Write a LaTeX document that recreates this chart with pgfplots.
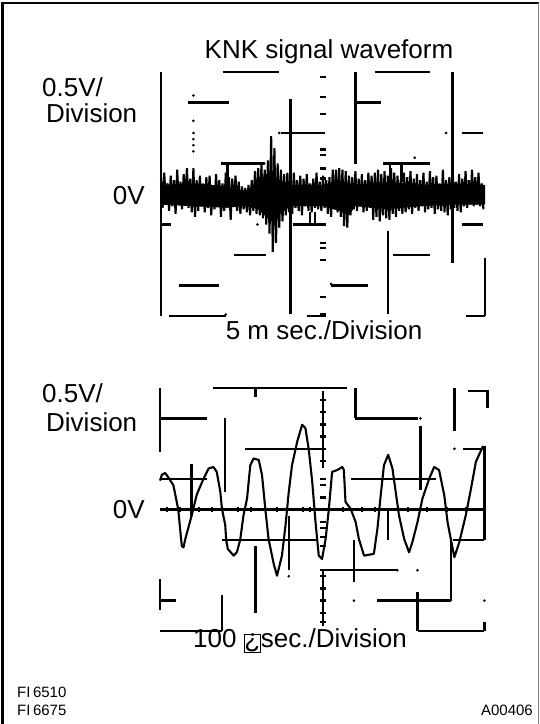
\documentclass[border=0pt]{standalone}
\usepackage{pgfplots}
\pgfplotsset{compat=1.18}
\usepackage{fontspec}
\setmainfont{Liberation Sans}

\pgfplotsset{
  scope/.style={scale only axis, hide axis, clip=false,
    xmin=0, xmax=10, ymin=-4, ymax=4, unbounded coords=jump},
  grid seg/.style={black, line width=2.3pt, line cap=butt},
}
\newcommand\bigtxt{\fontsize{26}{30}\selectfont}
\newcommand\smalltxt{\fontsize{15}{17}\selectfont}

\begin{document}
\begin{tikzpicture}
\useasboundingbox (0pt,0pt) rectangle (539pt,724pt);
% frame
\draw[line width=2.2pt] (2.5pt,0pt) -- (2.5pt,721pt) -- (539pt,721pt);
\draw[gray, line width=0.8pt] (538.4pt,0pt) -- (538.4pt,721pt);

% ---- upper trace: 5 ms/div
\begin{axis}[scope, at={(161pt,408pt)}, anchor=south west, width=324pt, height=244pt]
\addplot[grid seg] coordinates {
 (0,-4)(0,4)(0,nan)
 (1.9,4)(3.65,4)(0,nan) (6.6,4)(8.3,4)(0,nan)
 (0.82,3)(2.1,3)(0,nan) (6.03,3)(6.8,3)(0,nan)
 (3.7,2)(5.05,2)(0,nan) (9.3,2)(9.95,2)(0,nan)
 (1.85,1)(3.19,1)(0,nan) (2.05,1)(2.05,0.3)(0,nan)
 (6.85,1)(8.3,1)(0,nan) (7.06,1)(7.06,0.4)(0,nan) (7.42,1)(7.42,0.4)(0,nan)
 (0,-1)(0.3,-1)(0,nan) (4.06,-1)(4.9,-1)(0,nan)
 (4.6,-1)(4.6,-0.6)(0,nan) (4.75,-1)(4.75,-0.6)(0,nan)
 (9.3,-1)(9.95,-1)(0,nan)
 (2.26,-2)(3.24,-2)(0,nan) (7.16,-2)(8.3,-2)(0,nan)
 (0.56,-3)(1.8,-3)(0,nan) (5.25,-3)(6.4,-3)(0,nan)
 (0.25,-4)(2.0,-4)(0,nan) (4.5,-4)(5.1,-4)(0,nan) (9.4,-4)(10,-4)(0,nan)
 (4,3.1)(4,-3.95)(0,nan)
 (6,4)(6,1.0)(0,nan)
 (9,4)(9,-2.25)(0,nan)
 (7,-1.2)(7,-3.93)(0,nan)
 (10,-2.1)(10,-4)
};
\addplot[only marks, mark=-, mark size=3, mark options={line width=2.3pt}] coordinates {
 (5,3.84)(5,3.18)(5,2.62)(5,1.46)(5,1.29)(5,0.84)(5,0.51)
 (5,-1.0)(5,-1.6)(5,-1.77)(5,-2.16)(5,-3.38)(5,-3.93)
};
\addplot[only marks, mark=*, mark size=1.1] coordinates {
 (1,3.23)(1,2.4)(1,2.0)(1,1.8)(1,1.6)(1,1.4)
 (2.98,-1.0)(3.19,1.0)(3.65,2)(8.8,2)(7.83,1.19)(5.25,-2.95)(2.0,-3.95)
};
% solid core of the noise band
\addplot[fill=black, draw=none] coordinates {
 (0,0.30)(1,0.35)(2,0.25)(2.6,0.10)(3.0,0.40)(3.4,0.80)(3.6,0.50)(4,0.30)(5,0.30)
 (5.5,0.45)(6,0.30)(7,0.40)(8,0.30)(9,0.35)(10,0.30)
 (10,-0.35)(9,-0.35)(8,-0.40)(7,-0.50)(6,-0.40)(5.8,-0.70)(5.5,-0.55)(5,-0.40)(4,-0.40)
 (3.6,-0.70)(3.4,-0.90)(3.0,-0.50)(2.6,-0.40)(2,-0.45)(1,-0.40)(0,-0.35)
} -- cycle;
\addplot[black, line width=2.1pt, line join=bevel] coordinates {
(0.00,0.55)(0.05,-0.45)(0.10,0.70)(0.15,-0.30)(0.20,0.35)(0.25,-0.55)(0.30,0.60)(0.35,-0.40)(0.40,0.45)(0.45,-0.65)
(0.50,0.80)(0.55,-0.35)(0.60,0.40)(0.65,-0.50)(0.70,0.65)(0.75,-0.30)(0.80,0.85)(0.85,-0.45)(0.90,0.50)(0.95,-0.60)
(1.00,0.85)(1.05,-0.75)(1.10,0.45)(1.15,-0.55)(1.20,0.60)(1.25,-0.40)(1.30,0.35)(1.35,-0.60)(1.40,0.55)(1.45,-0.45)
(1.50,0.60)(1.55,-0.70)(1.60,0.30)(1.65,-0.50)(1.70,0.65)(1.75,-0.40)(1.80,0.45)(1.85,-0.75)(1.90,0.35)(1.95,-0.55)
(2.00,0.70)(2.05,-0.45)(2.10,0.55)(2.15,-0.85)(2.20,0.50)(2.25,-0.40)(2.30,0.60)(2.35,-0.55)(2.40,0.40)(2.45,-0.65)
(2.50,0.25)(2.55,-0.50)(2.60,0.20)(2.65,-0.60)(2.70,0.30)(2.75,-0.70)(2.80,0.45)(2.85,-0.55)(2.90,0.75)(2.95,-0.65)
(3.00,0.85)(3.05,-0.70)(3.10,0.95)(3.15,-0.80)(3.20,0.80)(3.25,-1.00)(3.30,1.10)(3.35,-1.30)(3.40,1.90)(3.45,-1.90)
(3.50,1.50)(3.55,-1.60)(3.60,1.00)(3.65,-1.10)(3.70,0.80)(3.75,-0.90)(3.80,0.65)(3.85,-0.70)(3.90,0.70)(3.95,-0.60)
(4.00,0.55)(4.05,-0.65)(4.10,0.70)(4.15,-0.45)(4.20,0.45)(4.25,-0.55)(4.30,0.60)(4.35,-0.70)(4.40,0.50)(4.45,-0.40)
(4.50,0.65)(4.55,-0.55)(4.60,0.35)(4.65,-0.60)(4.70,0.50)(4.75,-0.45)(4.80,0.70)(4.85,-0.50)(4.90,0.40)(4.95,-0.55)
(5.00,0.60)(5.05,-0.45)(5.10,0.45)(5.15,-0.65)(5.20,0.55)(5.25,-0.75)(5.30,0.80)(5.35,-0.50)(5.40,0.80)(5.45,-0.60)
(5.50,0.85)(5.55,-0.75)(5.60,0.80)(5.65,-1.05)(5.70,0.75)(5.75,-1.10)(5.80,0.60)(5.85,-0.70)(5.90,0.55)(5.95,-0.50)
(6.00,0.75)(6.05,-0.55)(6.10,0.50)(6.15,-0.40)(6.20,0.65)(6.25,-0.60)(6.30,0.45)(6.35,-0.55)(6.40,0.70)(6.45,-0.45)
(6.50,0.60)(6.55,-0.85)(6.60,0.70)(6.65,-0.75)(6.70,0.80)(6.75,-0.90)(6.80,0.65)(6.85,-0.70)(6.90,0.75)(6.95,-0.80)
(7.00,0.60)(7.05,-0.85)(7.10,0.85)(7.15,-0.65)(7.20,0.70)(7.25,-0.75)(7.30,0.60)(7.35,-0.55)(7.40,0.45)(7.45,-0.65)
(7.50,0.70)(7.55,-0.60)(7.60,0.55)(7.65,-0.50)(7.70,0.75)(7.75,-0.65)(7.80,0.50)(7.85,-0.45)(7.90,0.65)(7.95,-0.55)
(8.00,0.45)(8.05,-0.40)(8.10,0.70)(8.15,-0.60)(8.20,0.40)(8.25,-0.50)(8.30,0.75)(8.35,-0.45)(8.40,0.55)(8.45,-0.65)
(8.50,0.60)(8.55,-0.50)(8.60,0.35)(8.65,-0.55)(8.70,0.80)(8.75,-0.60)(8.80,0.45)(8.85,-0.70)(8.90,0.55)(8.95,-0.50)
(9.00,0.85)(9.05,-0.45)(9.10,0.40)(9.15,-0.55)(9.20,0.65)(9.25,-0.60)(9.30,0.50)(9.35,-0.40)(9.40,0.75)(9.45,-0.45)
(9.50,0.45)(9.55,-0.35)(9.60,0.80)(9.65,-0.40)(9.70,0.55)(9.75,-0.35)(9.80,0.70)(9.85,-0.40)(9.90,0.35)(9.95,-0.50)
};
\end{axis}

% ---- lower trace: 100 us/div
\begin{axis}[scope, at={(160pt,93pt)}, anchor=south west, width=326pt, height=243pt]
\addplot[grid seg] coordinates {
 (0,4)(0,1.9)(0,nan) (0,-2.3)(0,-3.3)(0,nan)
 (1.64,4)(5.74,4)(0,nan) (2.93,4)(2.93,3.7)(0,nan)
 (0,3)(1.44,3)(0,nan) (5.99,3)(7.9,3)(0,nan) (6,4)(6,3)(0,nan)
 (2,3)(2,0.58)(0,nan)
 (2.62,2)(4.92,2)(0,nan) (9.28,2)(9.95,2)(0,nan)
 (9.03,4)(9.03,2.6)(0,nan)
 (9.45,3.9)(10.05,3.9)(10.05,3.35)(0,nan)
 (7.99,2.75)(7.99,0.64)(0,nan)
 (0,1)(1.44,1)(0,nan) (5.85,1)(8.46,1)(0,nan)
 (0.97,1.5)(0.97,-0.2)(0,nan)
 (0,0)(10,0)(0,nan)
 (1.9,-1)(4.82,-1)(0,nan) (9.0,-1)(9.95,-1)(0,nan)
 (7,0)(7,-1)(0,nan)
 (9.95,2.1)(9.95,-1)(0,nan) (9.95,-3.7)(9.95,-4)(0,nan)
 (4.92,-2)(7.28,-2)(0,nan)
 (5.95,-1)(5.95,-2.4)(0,nan)
 (2.93,-1.2)(2.93,-3.4)(0,nan)
 (3.95,-0.2)(3.95,-2)(0,nan)
 (0,-3)(0.5,-3)(0,nan) (6.67,-3)(8.92,-3)(0,nan)
 (8.92,-1)(8.92,-3)(0,nan)
 (7.9,-2.7)(7.9,-4)(0,nan)
 (1.9,-2.8)(1.9,-4)(0,nan)
 (0,-4)(1.9,-4)(0,nan) (7.9,-4)(9.95,-4)(0,nan)
 (5,3.89)(5,1.35)(0,nan)
 (5,-1.96)(5,-3.84)
};
\addplot[only marks, mark=-, mark size=3, mark options={line width=2.3pt}] coordinates {
 (5,3.6)(5,3.2)(5,2.8)(5,2.4)(5,2.0)(5,1.6)
 (5,1.0)(5,0.8)(5,0.4)(5,-0.4)(5,-0.6)(5,-0.9)(5,-1.2)
 (5,-2.2)(5,-2.6)(5,-3.0)(5,-3.4)(5,-3.7)
};
\addplot[only marks, mark=|, mark size=2.5, mark options={line width=2pt}] coordinates {
 (0.2,0)(0.6,0)(1.2,0)(1.6,0)(2.4,0)(2.8,0)(3.6,0)(4.4,0)(4.6,0)
 (5.6,0)(6.2,0)(6.6,0)(7.6,0)(8.2,0)(8.8,0)(9.4,0)
};
\addplot[only marks, mark=*, mark size=1.1] coordinates {
 (7.99,3.0)(7.28,-2)(7.9,-2)(5.95,-3)(9.95,-3)(3.95,-2.2)(9.03,2)
};
\addplot[black, line width=2.1pt, line join=round] coordinates {
(0,0.95)(0.06,1.15)(0.16,1.2)(0.26,1.05)(0.41,0.8)(0.56,0.0)(0.64,-0.9)(0.67,-1.2)(0.72,-1.25)
(0.77,-1.0)(0.97,-0.2)(1.13,0.5)(1.33,1.0)(1.49,1.35)(1.64,1.4)(1.74,1.24)(1.85,0.58)(1.9,0.02)
(2.0,-0.5)(2.03,-1.0)(2.08,-1.3)(2.26,-1.52)(2.36,-1.4)(2.46,-1.0)(2.56,-0.2)(2.67,0.36)(2.77,1.46)
(2.87,1.68)(3.03,1.63)(3.13,1.13)(3.23,0.02)(3.33,-0.97)(3.49,-1.8)(3.59,-2.18)(3.74,-1.52)
(3.85,-0.52)(3.95,0.58)(4.05,1.46)(4.21,2.24)(4.36,2.79)(4.46,2.68)(4.56,2.0)(4.67,0.91)
(4.77,-0.41)(4.87,-1.52)(4.97,-1.63)(5.08,-0.97)(5.18,0.02)(5.28,1.24)(5.44,1.3)(5.59,1.4)
(5.64,1.3)(5.69,0.25)(5.85,0.02)(6.0,-0.41)(6.1,-0.97)(6.26,-1.52)(6.56,-1.46)(6.67,-0.63)
(6.77,0.47)(6.87,1.46)(7.0,1.8)(7.13,1.35)(7.23,0.58)(7.33,-0.19)(7.49,-0.97)(7.64,-1.41)
(7.74,-1.08)(7.9,-0.41)(8.05,0.36)(8.26,1.02)(8.41,1.4)(8.56,1.3)(8.72,0.47)(8.82,-0.41)
(8.92,-0.97)(9.03,-1.57)(9.18,-1.08)(9.38,-0.19)(9.54,0.69)(9.69,1.57)(9.9,2.07)(9.95,2.0)
};
\end{axis}

% ---- text
\begin{scope}[x=1pt, y=1pt]
\node[anchor=base, inner sep=0] at (329,665) {\bigtxt KNK signal waveform};
\node[anchor=base west, inner sep=0] at (42,627) {\bigtxt 0.5V/};
\node[anchor=base west, inner sep=0] at (46,601) {\bigtxt Division};
\node[anchor=base east, inner sep=0] at (145,519) {\bigtxt 0V};
\node[anchor=base, inner sep=0] at (324,384) {\bigtxt 5 m sec./Division};

\node[anchor=base west, inner sep=0] at (42,321) {\bigtxt 0.5V/};
\node[anchor=base west, inner sep=0] at (46,292) {\bigtxt Division};
\node[anchor=base east, inner sep=0] at (145,205) {\bigtxt 0V};
\node[anchor=base, inner sep=0] at (300,76)
  {\bigtxt 100 {\setlength\fboxsep{0pt}\setlength\fboxrule{0.6pt}\fbox{¿}}sec./Division};

\node[anchor=base west, inner sep=0] at (17,27) {\smalltxt FI\thinspace 6510};
\node[anchor=base west, inner sep=0] at (17,9) {\smalltxt FI\thinspace 6675};
\node[anchor=base east, inner sep=0] at (533,9) {\smalltxt A00406};
\end{scope}
\end{tikzpicture}
\end{document}
